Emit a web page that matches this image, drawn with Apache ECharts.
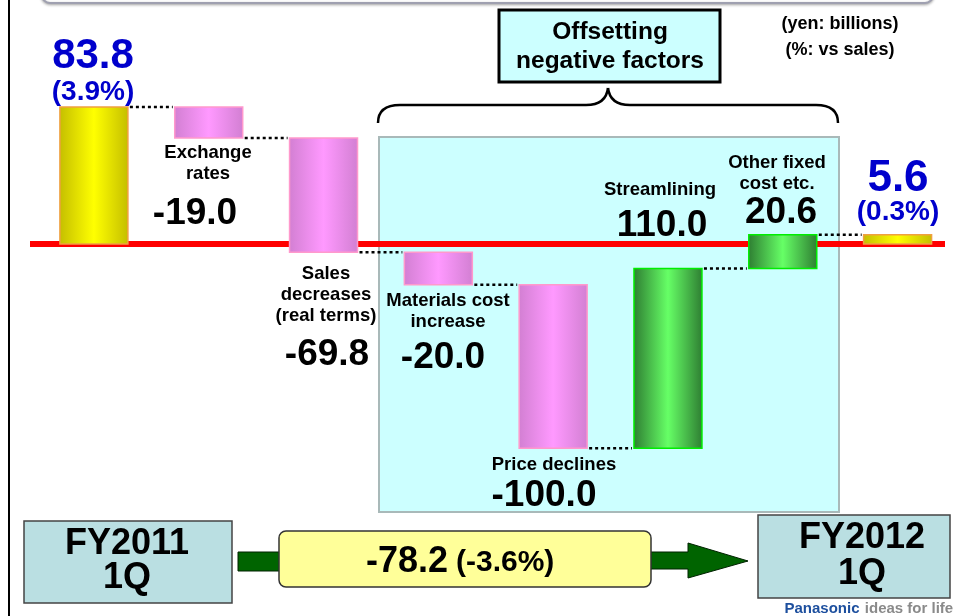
<!DOCTYPE html>
<html>
<head>
<meta charset="utf-8">
<script src="https://cdn.jsdelivr.net/npm/echarts@6/dist/echarts.min.js"></script>
<style>
  html, body { margin: 0; padding: 0; background: #fff; }
  #chart { width: 955px; height: 616px; }
</style>
</head>
<body>
<div id="chart"></div>
<script>
// waterfall data (yen: billions)
const categories = ['FY2011\n1Q', 'Exchange\nrates', 'Sales\ndecreases\n(real terms)', 'Materials cost\nincrease',
  'Price declines', 'Streamlining', 'Other fixed\ncost etc.', 'FY2012\n1Q'];
const values = [83.8, -19.0, -69.8, -20.0, -100.0, 110.0, 20.6, 5.6];
const isTotal = [true, false, false, false, false, false, false, true];
const pctLabels = ['(3.9%)', '', '', '', '', '', '', '(0.3%)'];
const totalChange = -78.2;
const totalChangePct = '(-3.6%)';

const FONT = '"Liberation Sans", Arial, sans-serif';

// start / end of each floating bar
const rows = [];
let running = 0;
values.forEach(function (v, i) {
  if (isTotal[i]) {
    rows.push([i, 0, v, 0]);
    running = v;
  } else {
    rows.push([i, running, running + v, v < 0 ? 1 : 2]);
    running += v;
  }
});

const palettes = [
  { edge: '#c4be00', mid: '#ffff00', border: '#f0a040' }, // totals
  { edge: '#d27fd2', mid: '#ff99ff', border: '#ff99cc' }, // decreases
  { edge: '#2e7d32', mid: '#66ff66', border: '#00ee00' }  // increases
];

function renderItem(params, api) {
  const i = api.value(0), lo = api.value(1), hi = api.value(2), kind = api.value(3);
  const a = api.coord([i, lo]);
  const b = api.coord([i, hi]);
  const w = api.size([1, 0])[0] * 0.592;
  const pal = palettes[kind];
  const children = [{
    type: 'rect',
    shape: { x: a[0] - w / 2, y: Math.min(a[1], b[1]), width: w, height: Math.abs(a[1] - b[1]) },
    style: {
      fill: new echarts.graphic.LinearGradient(0, 0, 1, 0, [
        { offset: 0, color: pal.edge },
        { offset: 0.5, color: pal.mid },
        { offset: 1, color: pal.edge }
      ]),
      stroke: pal.border,
      lineWidth: 1.5
    }
  }];
  if (i < rows.length - 1) {
    const nx = api.coord([i + 1, hi])[0];
    children.push({
      type: 'line',
      shape: { x1: a[0] + w / 2 + 2, y1: b[1], x2: nx - w / 2 - 2, y2: b[1] },
      style: { stroke: '#000', lineWidth: 2.5, lineDash: [3, 3] }
    });
  }
  return { type: 'group', children: children };
}

const chart = echarts.init(document.getElementById('chart'));
chart.setOption({
  animation: false,
  backgroundColor: '#fff',
  grid: { left: 36.5, right: 0, top: 80.5, bottom: 126.8 },
  xAxis: { type: 'category', data: categories, show: false },
  yAxis: { type: 'value', min: -150, max: 100, show: false, splitLine: { show: false } },
  series: [{
    type: 'custom',
    renderItem: renderItem,
    data: rows,
    z: 5
  }]
});

const zeroY = chart.convertToPixel({ yAxisIndex: 0 }, 0);

function txt(text, x, y, size, color, align) {
  return {
    type: 'text', z: 100,
    style: {
      text: text, x: x, y: y,
      font: 'bold ' + size + 'px ' + FONT,
      fill: color || '#000',
      align: align || 'center', textAlign: align || 'center',
      verticalAlign: 'middle', textVerticalAlign: 'middle',
      lineHeight: Math.round(size * 1.15)
    }
  };
}

function seg(x1, y1, x2, y2) {
  return { type: 'line', z: 1, shape: { x1: x1, y1: y1, x2: x2, y2: y2 }, style: { stroke: '#000', lineWidth: 2.5 } };
}
function curve(x1, y1, cx, cy, x2, y2) {
  return { type: 'bezierCurve', z: 1, shape: { x1: x1, y1: y1, cpx1: cx, cpy1: cy, x2: x2, y2: y2 },
    style: { fill: 'none', stroke: '#000', lineWidth: 2.5 } };
}

const fmt = function (v) { return v.toFixed(1); };

chart.setOption({
  graphic: [
    // slide frame pieces
    { type: 'rect', z: 0, shape: { x: 42, y: -20, width: 891, height: 23, r: 8 },
      style: { fill: '#fff', stroke: '#9fa0b0', lineWidth: 2, shadowBlur: 3, shadowColor: 'rgba(0,0,0,0.3)', shadowOffsetY: 1 } },
    { type: 'line', z: 0, shape: { x1: 9, y1: 0, x2: 9, y2: 616 }, style: { stroke: '#000', lineWidth: 2 } },
    // offsetting factors area
    { type: 'rect', z: 0, shape: { x: 379, y: 137, width: 460, height: 375 },
      style: { fill: '#ccffff', stroke: '#a9b9b9', lineWidth: 2 } },
    { type: 'line', z: 1, shape: { x1: 30, y1: zeroY, x2: 945, y2: zeroY }, style: { stroke: '#ff0000', lineWidth: 6 } },
    // brace
    curve(378, 123, 378, 105, 400, 105),
    seg(400, 105, 586, 105),
    curve(586, 105, 606, 105, 608, 88),
    curve(608, 88, 610, 105, 630, 105),
    seg(630, 105, 816, 105),
    curve(816, 105, 838, 105, 838, 123),
    { type: 'rect', z: 1, shape: { x: 499, y: 10, width: 221, height: 72 },
      style: { fill: '#ccffff', stroke: '#000', lineWidth: 3 } },
    txt('Offsetting', 610, 32, 24.5),
    txt('negative factors', 610, 61, 24.5),
    txt('(yen: billions)', 840, 24, 18),
    txt('(%: vs sales)', 840, 50, 18),

    // totals
    txt(fmt(values[0]), 93, 56, 42, '#0000cc'),
    txt(pctLabels[0], 93, 92, 28, '#0000cc'),
    txt(fmt(values[7]), 898, 179, 44, '#0000cc'),
    txt(pctLabels[7], 898, 212, 28, '#0000cc'),

    // factor names and values
    txt(categories[1], 208, 163, 18.5),
    txt(fmt(values[1]), 195, 214, 37),
    txt(categories[2], 326, 295, 18.5),
    txt(fmt(values[2]), 327, 355, 37),
    txt(categories[3], 448, 311, 18.5),
    txt(fmt(values[3]), 443, 358, 37),
    txt(categories[4], 554, 465, 18.5),
    txt(fmt(values[4]), 544, 496, 37),
    txt(categories[5], 660, 190, 18.5),
    txt(fmt(values[5]), 662, 226, 37),
    txt(categories[6], 777, 173, 18.5),
    txt(fmt(values[6]), 781, 213, 37),

    // bottom summary
    { type: 'rect', z: 1, shape: { x: 24, y: 521, width: 208, height: 82 },
      style: { fill: '#badfe2', stroke: '#444', lineWidth: 1.5 } },
    txt('FY2011', 127, 544, 36),
    txt('1Q', 127, 578, 36),
    { type: 'rect', z: 1, shape: { x: 238, y: 552, width: 50, height: 19 },
      style: { fill: '#006400', stroke: '#002200', lineWidth: 1 } },
    { type: 'polygon', z: 1,
      shape: { points: [[645, 552], [688, 552], [688, 543], [748, 561], [688, 578], [688, 569], [645, 569]] },
      style: { fill: '#006400', stroke: '#002200', lineWidth: 1 } },
    { type: 'rect', z: 2, shape: { x: 279, y: 531, width: 372, height: 56, r: 7 },
      style: { fill: '#ffff99', stroke: '#333', lineWidth: 1.5 } },
    txt(fmt(totalChange), 448, 562, 36, '#000', 'right'),
    txt(totalChangePct, 456, 563, 30, '#000', 'left'),
    { type: 'rect', z: 1, shape: { x: 758, y: 515, width: 192, height: 83 },
      style: { fill: '#badfe2', stroke: '#444', lineWidth: 1.5 } },
    txt('FY2012', 862, 538, 36),
    txt('1Q', 862, 574, 36),
    txt('Panasonic', 822, 609, 15, '#1d4f9e'),
    txt('ideas for life', 909, 609, 15, '#8a8a8a')
  ]
});
</script>
</body>
</html>
